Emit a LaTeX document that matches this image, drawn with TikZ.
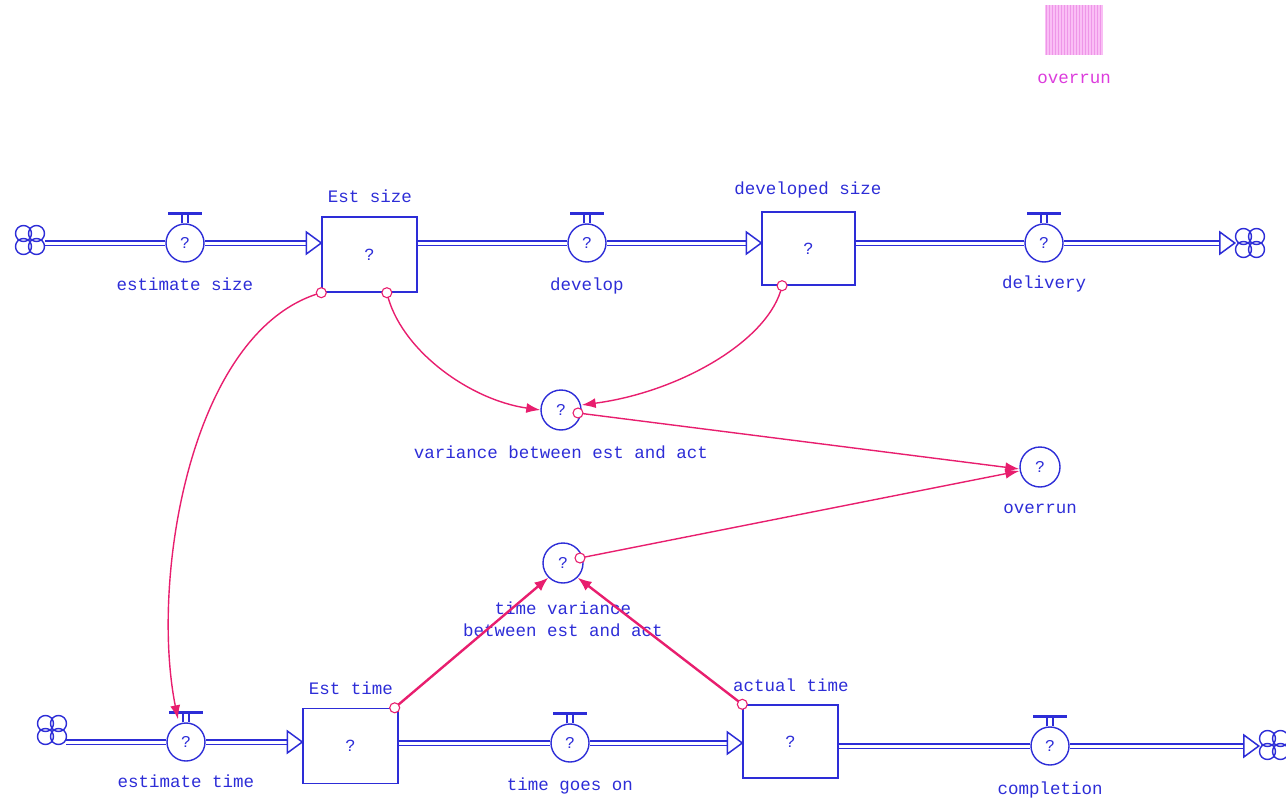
\documentclass[tikz,border=0pt]{standalone}
\usepackage{fontspec}
\usetikzlibrary{shapes.symbols,arrows.meta,calc}
\newfontfamily\monofam{Liberation Mono}
\definecolor{fb}{RGB}{45,45,215}
\definecolor{lk}{RGB}{232,30,110}
\definecolor{legfill}{RGB}{250,190,245}
\definecolor{legline}{RGB}{238,150,232}
\definecolor{legtext}{RGB}{220,60,220}
\tikzset{
  stock/.style={draw=fb, line width=1.4pt, minimum width=95pt, minimum height=75pt, inner sep=0pt, text=fb, font=\monofam\fontsize{17}{19}\selectfont},
  valvec/.style={circle, draw=fb, line width=1.4pt, minimum size=38pt, inner sep=0pt, text=fb, font=\monofam\fontsize{16.5}{19}\selectfont},
  auxc/.style={circle, draw=fb, line width=1.4pt, minimum size=40pt, inner sep=0pt, text=fb, font=\monofam\fontsize{16.5}{19}\selectfont},
  lbl/.style={text=fb, font=\monofam\fontsize{17.5}{21}\selectfont, inner sep=1pt, align=center},
  cloudn/.style={circle, draw=none, minimum size=30pt, inner sep=0pt},
  lobe/.style={draw=fb, line width=1.4pt},
  pipe/.style={draw=fb, double=white, double distance=3pt, line width=1.2pt},
  tri/.style={draw=fb, line width=1.5pt, fill=white, line join=miter},
  link/.style={draw=lk, line width=1.4pt, -{Latex[length=14pt,width=10pt]}},
  linkt/.style={draw=lk, line width=2.4pt, -{Latex[length=14pt,width=11pt]}},
  tailc/.style={draw=lk, line width=1.1pt, fill=white},
}
\newcommand{\flowvalve}[5]{%
  \node[valvec] (#1) at (#2,#3) {?};
  \node[lbl] (#1l) at (#2,#3+#5) {#4};
  \draw[fb, line width=1.1pt] ([xshift=-3pt]#1.north) -- ++(0pt,9pt)
        ([xshift=3pt]#1.north) -- ++(0pt,9pt);
  \draw[fb, line width=2.6pt] ([xshift=-17pt,yshift=10pt]#1.north) -- ([xshift=17pt,yshift=10pt]#1.north);
}
\newcommand{\cloudmark}[3]{%
  \node[cloudn] (#1) at (#2,#3) {};
  \foreach \dx/\dy in {-6.5/-6.5, 6.5/-6.5, 6.5/6.5, -6.5/6.5}
    {\draw[lobe] ([xshift=\dx pt,yshift=\dy pt]#1.center) circle (8pt);}
}
\newcommand{\pipehead}[1]{%
  \draw[tri] ($(#1)+(-15pt,11pt)$) -- (#1) -- ($(#1)+(-15pt,-11pt)$) -- cycle;
}
\begin{document}
\begin{tikzpicture}[x=1pt,y=-1pt]
\useasboundingbox (0,0) rectangle (1286,800);

% legend
\node[draw=none, fill=legfill, minimum width=58pt, minimum height=50pt, inner sep=0pt] (leg) at (1074,30) {};
\foreach \i in {0,...,18} {\draw[legline, line width=0.6pt] (1046+3*\i,5) -- (1046+3*\i,55);}
\node[text=legtext, font=\monofam\fontsize{17.5}{21}\selectfont] (legl) at (1074,79) {overrun};

% ---------------- top chain ----------------
\cloudmark{c1}{30}{240}
\flowvalve{v1}{185}{243}{estimate size}{41}
\node[stock] (s1) at (369.5,254.5) {?};
\node[lbl] (s1l) at (370,196) {Est size};
\flowvalve{v2}{587}{243}{develop}{43}
\node[stock, minimum width=93pt, minimum height=73pt] (s2) at (808.5,248.5) {?};
\node[lbl] (s2l) at (808,190) {developed size};
\flowvalve{v3}{1044}{243}{delivery}{41}
\cloudmark{c2}{1250}{243}

\coordinate (s1in) at (s1.west |- v1.center);
\coordinate (s1out) at (s1.east |- v1.center);
\coordinate (s2in) at (s2.west |- v2.center);
\coordinate (s2out) at (s2.east |- v3.center);
\coordinate (c2in) at (c2.west |- v3.center);

\draw[pipe] (c1.east |- v1.center) -- (v1.west);
\draw[pipe] (v1.east) -- ($(s1in)+(-14pt,0pt)$);
\pipehead{s1in}
\draw[pipe] (s1out) -- (v2.west);
\draw[pipe] (v2.east) -- ($(s2in)+(-14pt,0pt)$);
\pipehead{s2in}
\draw[pipe] (s2out) -- (v3.west);
\draw[pipe] (v3.east) -- ($(c2in)+(-14pt,0pt)$);
\pipehead{c2in}

% ---------------- auxiliaries ----------------
\node[auxc] (a1) at (561,410) {?};
\node[lbl] (a1l) at (561,452) {variance between est and act};
\node[auxc] (a2) at (1040,467) {?};
\node[lbl] (a2l) at (1040,509) {overrun};
\node[auxc] (a3) at (563,563) {?};
\node[lbl] (a3l) at (563,619) {time variance\\[1pt]between est and act};

% ---------------- bottom chain ----------------
\cloudmark{c3}{52}{730}
\flowvalve{v4}{186}{742}{estimate time}{39}
\node[stock] (s3) at (350.5,746) {?};
\node[lbl] (s3l) at (351,688) {Est time};
\flowvalve{v5}{570}{743}{time goes on}{43}
\node[stock, minimum width=95pt, minimum height=73pt] (s4) at (790.5,741.5) {?};
\node[lbl] (s4l) at (791,685) {actual time};
\flowvalve{v6}{1050}{746}{completion}{44}
\cloudmark{c4}{1274}{745}

\coordinate (s3in) at (s3.west |- v4.center);
\coordinate (s3out) at (s3.east |- v5.center);
\coordinate (s4in) at (s4.west |- v5.center);
\coordinate (s4out) at (s4.east |- v6.center);
\coordinate (c4in) at (c4.west |- v6.center);

\draw[pipe] ([xshift=-1pt]c3.east |- v4.center) -- (v4.west);
\draw[pipe] (v4.east) -- ($(s3in)+(-14pt,0pt)$);
\pipehead{s3in}
\draw[pipe] (s3out) -- (v5.west);
\draw[pipe] (v5.east) -- ($(s4in)+(-14pt,0pt)$);
\pipehead{s4in}
\draw[pipe] (s4out) -- (v6.west);
\draw[pipe] (v6.east) -- ($(c4in)+(-14pt,0pt)$);
\pipehead{c4in}

% ---------------- links ----------------
\coordinate (t1) at (s1.south west);
\coordinate (t2) at ($(s1.south west)!0.68!(s1.south east)$);
\coordinate (t3) at ($(s2.south west)!0.22!(s2.south east)$);
\coordinate (t4) at ($(a1.center)+(17pt,-3pt)$);
\coordinate (t5) at ($(a3.center)+(17pt,5pt)$);
\coordinate (t6) at ($(s3.north east)+(-4pt,0pt)$);
\coordinate (t7) at (s4.north west);

\draw[link] (t1) .. controls (190,330) and (150,580) .. ([xshift=-8pt,yshift=3pt]v4.north);
\draw[link] (t2) .. controls (400,350) and (470,400) .. (a1.west);
\draw[link] (t3) .. controls (770,340) and (680,392) .. ([yshift=5pt]a1.east);
\draw[link] (t4) -- ([yshift=-2pt]a2.west);
\draw[link] (t5) -- ([yshift=-4pt]a2.west);
\draw[linkt] (t6) -- (a3.south west);
\draw[linkt] (t7) -- (a3.south east);

\foreach \p in {t1,t2,t3,t4,t5,t6,t7} {\draw[tailc] (\p) circle (5pt);}
\end{tikzpicture}
\end{document}
